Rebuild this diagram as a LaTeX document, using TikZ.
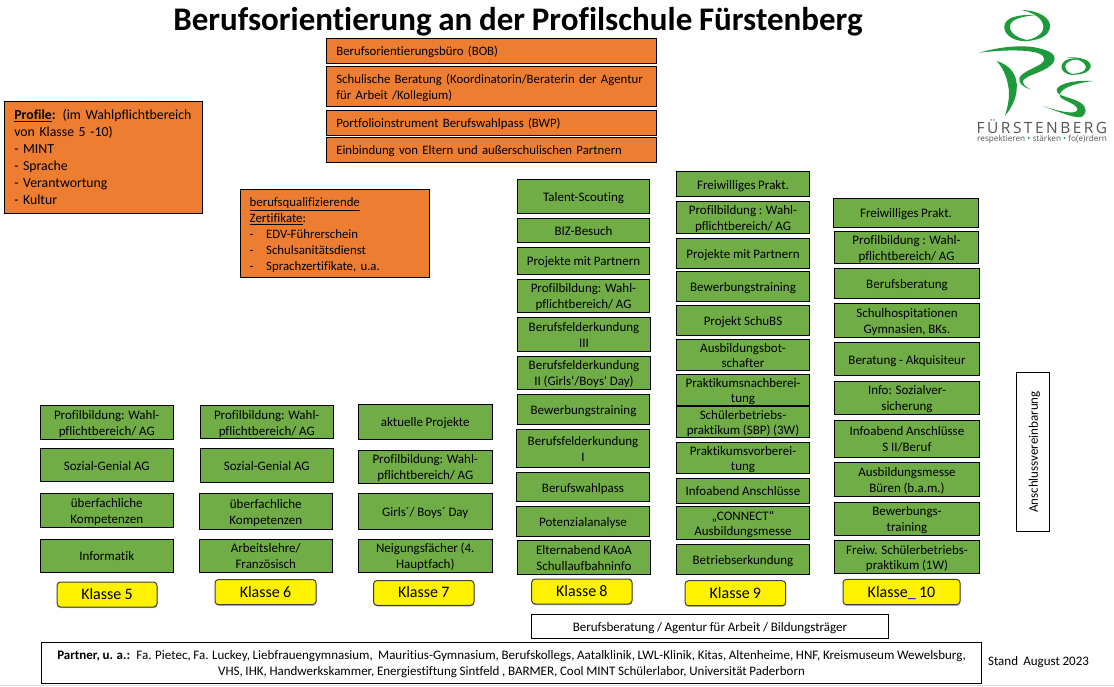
\documentclass[tikz,border=0pt]{standalone}
\usepackage{fontspec}
\setmainfont[Ligatures=NoCommon,WordSpace=0.9]{Carlito}
\newfontfamily\logofont[LetterSpace=16]{Open Sans}
\newfontfamily\tagfont{Open Sans}
\usetikzlibrary{shadows}
\definecolor{grn}{HTML}{70AD47}
\definecolor{org}{HTML}{ED7D31}
\definecolor{lgo}{HTML}{1E9A3C}
\definecolor{lgt}{HTML}{555555}
\newcommand{\fs}[2]{\fontsize{#1}{#2}\selectfont}
\newcommand{\bx}[7]{%
  \pgfmathsetmacro\bw{#4-#2}\pgfmathsetmacro\bh{#5-#3}%
  \pgfmathsetmacro\bcx{(#2+#4)/2}\pgfmathsetmacro\bcy{(#3+#5)/2}%
  \node[#6,minimum width=\bw pt,minimum height=\bh pt] (#1) at (\bcx,\bcy) {\rule[-3pt]{0pt}{16pt}#7\rule[-3pt]{0pt}{3pt}};}
\newcommand{\dsh}{\makebox[16.5pt][l]{-}}
\tikzset{
  base/.style={draw=black,line width=1pt,inner sep=0pt,text=black,align=center,font=\fs{13}{16}},
  gbox/.style={base,fill=grn},
  obox/.style={base,fill=org,align=left,inner xsep=10pt,text width=\bw pt-20pt,font=\fs{12.8}{16}},
  wbox/.style={base,fill=white},
  kbox/.style={draw=black!75,line width=1pt,rounded corners=3.5pt,fill=yellow,inner sep=0pt,
    font=\fs{16}{18},drop shadow={shadow xshift=0.4pt,shadow yshift=-1.2pt,opacity=.3,fill=black}},
  lgshape/.style={fill=lgo,draw=none}
}
\begin{document}
\begin{tikzpicture}[x=1pt,y=-1pt]
\useasboundingbox (0,0) rectangle (1114,686);
\fill[white] (0,0) rectangle (1114,686);
\draw[black!15,line width=1pt] (0,685.5) -- (1114,685.5);
\node[inner sep=0pt,font=\fs{33}{36}\bfseries] (title) at (518,21.5) {Berufsorientierung an der Profilschule Fürstenberg};
% top orange
\bx{t1}{326.3}{38.3}{656.7}{63.3}{obox}{Berufsorientierungsbüro (BOB)}
\bx{t2}{326.3}{66.3}{656.7}{106.3}{obox}{Schulische Beratung (Koordinatorin/Beraterin der Agentur\\für Arbeit /Kollegium)}
\bx{t3}{326.3}{110.3}{656.7}{135.3}{obox}{Portfolioinstrument Berufswahlpass (BWP)}
\bx{t4}{326.3}{137.3}{656.7}{162.3}{obox}{Einbindung von Eltern und außerschulischen Partnern}
\bx{prof}{4.3}{101.3}{202.7}{213.3}{obox,font=\fs{13.8}{17}}{\underline{\textbf{Profile}}\textbf{:} (im Wahlpflichtbereich\\von Klasse 5 -10)\\- MINT\\- Sprache\\- Verantwortung\\- Kultur}
\bx{zert}{240.3}{189.3}{429.7}{277.3}{obox,inner xsep=9.4pt,text width=\bw pt-18.8pt}{\underline{berufsqualifizierende}\\\underline{Zertifikate}:\\\dsh EDV-Führerschein\\\dsh Schulsanitätsdienst\\\dsh Sprachzertifikate, u.a.}
% Klasse 5
\bx{a1}{40.5}{405.5}{173}{439}{gbox}{Profilbildung: Wahl-\\pflichtbereich/ AG}
\bx{a2}{40.5}{448.5}{173}{481.5}{gbox}{Sozial-Genial AG}
\bx{a3}{40.5}{493}{173}{527}{gbox}{überfachliche\\Kompetenzen}
\bx{a4}{40.5}{539}{173}{572}{gbox}{Informatik}
% Klasse 6
\bx{b1}{200}{405.5}{333.5}{438.5}{gbox}{Profilbildung: Wahl-\\pflichtbereich/ AG}
\bx{b2}{200}{448.5}{333.5}{482.5}{gbox}{Sozial-Genial AG}
\bx{b3}{199}{493}{332.5}{529.5}{gbox}{überfachliche\\Kompetenzen}
\bx{b4}{199}{539}{332.5}{572}{gbox}{Arbeitslehre/\\Französisch}
% Klasse 7
\bx{c1}{358.5}{404.5}{492}{439}{gbox}{aktuelle Projekte}
\bx{c2}{358.5}{450}{492}{483.5}{gbox}{Profilbildung: Wahl-\\pflichtbereich/ AG}
\bx{c3}{358.5}{493}{492}{529.5}{gbox}{Girls´/ Boys´ Day}
\bx{c4}{358.5}{539}{492}{572}{gbox}{Neigungsfächer (4.\\Hauptfach)}
% Klasse 8
\bx{d1}{517.3}{179.3}{649.7}{213.7}{gbox}{Talent-Scouting}
\bx{d2}{517.3}{218.7}{649.7}{242.3}{gbox}{BIZ-Besuch}
\bx{d3}{517.3}{247.3}{649.7}{274.3}{gbox}{Projekte mit Partnern}
\bx{d4}{517.3}{279.3}{649.7}{312.3}{gbox}{Profilbildung: Wahl-\\pflichtbereich/ AG}
\bx{d5}{517.3}{317.3}{650.7}{351.3}{gbox}{Berufsfelderkundung\\III}
\bx{d6}{517.3}{356.3}{650.7}{389.3}{gbox}{Berufsfelderkundung\\II (Girls‘/Boys‘ Day)}
\bx{d7}{517.3}{394.3}{649.7}{424.3}{gbox}{Bewerbungstraining}
\bx{d8}{516.3}{429.3}{649.7}{467.3}{gbox}{Berufsfelderkundung\\I}
\bx{d9}{516.3}{472.7}{649.7}{501.3}{gbox}{Berufswahlpass}
\bx{d10}{516.3}{506.3}{649.7}{536.3}{gbox}{Potenzialanalyse}
\bx{d11}{517.3}{540.3}{650.7}{574.7}{gbox}{Elternabend KAoA\\Schullaufbahninfo}
% Klasse 9
\bx{e1}{676.3}{171.7}{809.7}{196.3}{gbox}{Freiwilliges Prakt.}
\bx{e2}{676.3}{201.3}{809.7}{233.3}{gbox}{Profilbildung : Wahl-\\pflichtbereich/ AG}
\bx{e3}{676.3}{238.7}{809.7}{268.3}{gbox}{Projekte mit Partnern}
\bx{e4}{676.3}{271.7}{809.7}{301.3}{gbox}{Bewerbungstraining}
\bx{e5}{676.3}{305.3}{809.7}{335.3}{gbox}{Projekt SchuBS}
\bx{e6}{676.3}{340.3}{809.7}{370.3}{gbox,font=\fs{13}{15}}{Ausbildungsbot-\\schafter}
\bx{e7}{676.3}{374.7}{809.7}{404.3}{gbox,font=\fs{13}{15}}{Praktikumsnachberei-\\tung}
\bx{e8}{676.3}{407.3}{809.7}{437.3}{gbox,font=\fs{13}{15}}{Schülerbetriebs-\\praktikum (SBP) (3W)}
\bx{e9}{676.3}{443.3}{809.7}{473.3}{gbox,font=\fs{13}{15}}{Praktikumsvorberei-\\tung}
\bx{e10}{676.3}{478.3}{809.7}{503.3}{gbox}{Infoabend Anschlüsse}
\bx{e11}{676.3}{506.3}{809.7}{539.3}{gbox,font=\fs{13}{15}}{„CONNECT“\\Ausbildungsmesse}
\bx{e12}{676.3}{544.3}{809.7}{574.3}{gbox}{Betriebserkundung}
% Klasse 10
\bx{f1}{833.3}{198.3}{978.7}{227.3}{gbox}{Freiwilliges Prakt.}
\bx{f2}{834.3}{231.3}{978.7}{263.3}{gbox}{Profilbildung : Wahl-\\pflichtbereich/ AG}
\bx{f3}{834.3}{268.7}{979.7}{298.3}{gbox}{Berufsberatung}
\bx{f4}{834.3}{303.3}{979.7}{337.3}{gbox}{Schulhospitationen\\Gymnasien, BKs.}
\bx{f5}{834.3}{342.7}{979.7}{375.3}{gbox}{Beratung - Akquisiteur}
\bx{f6}{834.3}{381.3}{979.7}{414.3}{gbox}{Info: Sozialver-\\sicherung}
\bx{f7}{834.3}{420.3}{979.7}{457.3}{gbox}{Infoabend Anschlüsse\\S II/Beruf}
\bx{f8}{834.3}{462.3}{979.7}{496.3}{gbox}{Ausbildungsmesse\\Büren (b.a.m.)}
\bx{f9}{834.3}{502.3}{979.7}{535.3}{gbox}{Bewerbungs-\\training}
\bx{f10}{834.3}{540.3}{979.7}{573.3}{gbox,font=\fs{13}{15}}{Freiw. Schülerbetriebs-\\praktikum (1W)}
% Klasse labels
\bx{k5}{57}{582}{157}{607}{kbox}{Klasse 5}
\bx{k6}{215}{579.5}{316}{604.7}{kbox}{Klasse 6}
\bx{k7}{373.5}{580.5}{474}{605.3}{kbox}{Klasse 7}
\bx{k8}{531.7}{579}{632}{604}{kbox}{Klasse 8}
\bx{k9}{685}{580.7}{785.7}{605.7}{kbox}{Klasse 9}
\bx{k10}{843}{579.3}{960}{604.7}{kbox}{Klasse{\color{blue}\_} 10}
% bottom
\bx{ber}{531.4}{614.3}{888.6}{638.3}{wbox}{Berufsberatung / Agentur für Arbeit / Bildungsträger}
\bx{part}{41.4}{642.3}{981.7}{683.3}{wbox}{\textbf{Partner, u. a.:}~ Fa. Pietec, Fa. Luckey, Liebfrauengymnasium,~ Mauritius-Gymnasium, Berufskollegs, Aatalklinik, LWL-Klinik, Kitas, Altenheime, HNF, Kreismuseum Wewelsburg,\\VHS, IHK, Handwerkskammer, Energiestiftung Sintfeld , BARMER, Cool MINT Schülerlabor, Universität Paderborn}
\node[inner sep=0pt,font=\fs{13}{16}] (stand) at (1038.5,662.5) {Stand~ August 2023};
\bx{ans}{1016.3}{372.3}{1049.7}{531.3}{wbox}{}
\node[rotate=90,inner sep=0pt,font=\fs{13}{16}] (anst) at (1034.5,452) {Anschlussvereinbarung};
% logo
\begin{scope}[shift={(960,0)},x=0.3333pt,y=-0.3333pt]
\fill[lgshape] (185,30) .. controls (240,32) and (272,55) .. (270,80) .. controls (268,108) and (235,125) .. (185,122) .. controls (225,120) and (252,100) .. (250,80) .. controls (248,55) and (225,40) .. (185,30) -- cycle;
\fill[lgshape] (215,122) .. controls (165,130) and (130,105) .. (133,78) .. controls (136,55) and (165,42) .. (235,45) .. controls (185,48) and (152,58) .. (150,78) .. controls (148,100) and (175,118) .. (215,122) -- cycle;
\fill[lgshape] (58,158) .. controls (120,140) and (200,130) .. (255,150) .. controls (290,160) and (295,185) .. (260,205) .. controls (230,222) and (205,225) .. (190,240) .. controls (185,250) and (195,260) .. (212,268) .. controls (190,262) and (175,250) .. (178,235) .. controls (185,215) and (225,205) .. (245,190) .. controls (262,175) and (250,160) .. (215,155) .. controls (170,148) and (110,152) .. (58,158) -- cycle;
\fill[lgshape] (110,183) .. controls (150,195) and (175,225) .. (170,270) .. controls (168,300) and (150,330) .. (135,347) .. controls (145,315) and (150,285) .. (145,260) .. controls (140,230) and (130,205) .. (110,183) -- cycle;
\fill[lgshape] (320,172) .. controls (360,170) and (395,180) .. (392,200) .. controls (388,220) and (355,228) .. (325,222) .. controls (355,222) and (380,215) .. (378,200) .. controls (375,185) and (350,175) .. (320,172) -- cycle;
\fill[lgshape] (345,225) .. controls (315,225) and (300,210) .. (305,195) .. controls (310,180) and (330,172) .. (365,177) .. controls (335,178) and (318,185) .. (316,197) .. controls (315,210) and (325,220) .. (345,225) -- cycle;
\fill[lgshape] (400,243) .. controls (350,240) and (300,248) .. (290,268) .. controls (285,285) and (320,290) .. (345,300) .. controls (370,310) and (385,325) .. (372,345) .. controls (365,358) and (345,355) .. (248,318) .. controls (300,335) and (345,345) .. (352,330) .. controls (355,315) and (320,305) .. (305,295) .. controls (290,285) and (300,255) .. (400,243) -- cycle;
\end{scope}
\node[inner sep=0pt,text=lgt,font=\logofont\fs{15.5}{16}] (lg1) at (1042,127) {FÜRSTENBERG};
\node[inner sep=0pt,text=lgt,font=\tagfont\fs{8.2}{9}] (lg2) at (1042,139.5) {respektieren {\color{lgo}•} stärken {\color{lgo}•} fo(e)rdern};
\end{tikzpicture}
\end{document}
